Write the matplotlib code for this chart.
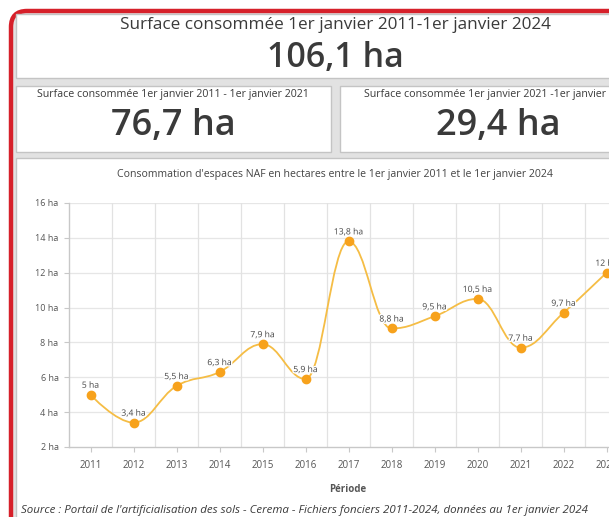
import numpy as np
import matplotlib
matplotlib.use("Agg")
import matplotlib.pyplot as plt
from matplotlib.patches import FancyBboxPatch, Rectangle, PathPatch
from matplotlib.path import Path
import matplotlib.patheffects as pe

# ---- data ----
years = [2011, 2012, 2013, 2014, 2015, 2016, 2017, 2018, 2019, 2020, 2021, 2022, 2023]
values = [5.0, 3.4, 5.5, 6.3, 7.9, 5.9, 13.8, 8.8, 9.5, 10.5, 7.7, 9.7, 12.0]
value_labels = ["5 ha", "3,4 ha", "5,5 ha", "6,3 ha", "7,9 ha", "5,9 ha", "13,8 ha",
                "8,8 ha", "9,5 ha", "10,5 ha", "7,7 ha", "9,7 ha", "12 ha"]
y_ticks = [2, 4, 6, 8, 10, 12, 14, 16]
y_tick_labels = ["2 ha", "4 ha", "6 ha", "8 ha", "10 ha", "12 ha", "14 ha", "16 ha"]

title_total = "Surface consommée 1er janvier 2011-1er janvier 2024"
value_total = "106,1 ha"
title_p1 = "Surface consommée 1er janvier 2011 - 1er janvier 2021"
value_p1 = "76,7 ha"
title_p2 = "Surface consommée 1er janvier 2021 -1er janvier 2024"
value_p2 = "29,4 ha"
chart_title = "Consommation d'espaces NAF en hectares entre le 1er janvier 2011 et le 1er janvier 2024"
x_title = "Période"
source = ("Source : Portail de l'artificialisation des sols - Cerema - Fichiers fonciers "
          "2011-2024, données au 1er janvier 2024")

W, H = 609, 517
DPI = 100
plt.rcParams['font.family'] = ['Open Sans', 'DejaVu Sans']

fig = plt.figure(figsize=(W / DPI, H / DPI), dpi=DPI)
fig.patch.set_facecolor("white")

# background axes in pixel coordinates (y from top)
bg = fig.add_axes([0, 0, 1, 1])
bg.set_xlim(0, W)
bg.set_ylim(H, 0)
bg.axis("off")

GRAY_BG = "#e2e2e2"
PANEL_EDGE = "#c4c4c4"
RED = "#d6202a"
TXT = "#3a3a3a"

# red rounded frame with gray interior
frame = FancyBboxPatch((11, 11), 700, 530, boxstyle="round,pad=0,rounding_size=16",
                       facecolor=GRAY_BG, edgecolor=RED, linewidth=3.2, zorder=1)
bg.add_patch(frame)

def panel(x0, y0, x1, y1):
    bg.add_patch(Rectangle((x0, y0), x1 - x0, y1 - y0, facecolor="white",
                           edgecolor=PANEL_EDGE, linewidth=1.0, zorder=2))

panel(15.5, 14, 660, 77.5)
panel(15.5, 86, 331, 152)
panel(340, 86, 660, 152)
panel(15.5, 158, 660, 560)

bg.text(335, 25, title_total, ha="center", va="center", fontsize=12.3, color=TXT, zorder=3)
bg.text(335, 58, value_total, ha="center", va="center", fontsize=24.5, color=TXT,
        fontweight="semibold", zorder=3)
bg.text(173, 94, title_p1, ha="center", va="center", fontsize=7.7, color=TXT, zorder=3)
bg.text(173, 126, value_p1, ha="center", va="center", fontsize=26, color=TXT,
        fontweight="semibold", zorder=3)
bg.text(498, 94, title_p2, ha="center", va="center", fontsize=7.7, color=TXT, zorder=3)
bg.text(498, 126, value_p2, ha="center", va="center", fontsize=26, color=TXT,
        fontweight="semibold", zorder=3)
bg.text(335, 175, chart_title, ha="center", va="center", fontsize=7.6, color="#444444", zorder=3)
bg.text(21, 510, source, ha="left", va="center", fontsize=8.25, style="italic",
        color="#3a3a3a", zorder=3)

# ---- chart axes ----
x_left_px, x_right_px = 69, 628
y_top_px, y_bot_px = 203, 447
ax = fig.add_axes([x_left_px / W, 1 - y_bot_px / H,
                   (x_right_px - x_left_px) / W, (y_bot_px - y_top_px) / H])
ax.set_facecolor("none")
ax.set_xlim(years[0] - 0.5, years[-1] + 0.5)
ax.set_ylim(2, 16)
ax.set_zorder(5)

for s in ["top", "right"]:
    ax.spines[s].set_visible(False)
for s in ["left", "bottom"]:
    ax.spines[s].set_color("#c8c8c8")
    ax.spines[s].set_linewidth(1.0)

ax.set_yticks(y_ticks)
ax.set_yticklabels(y_tick_labels)
ax.set_xticks(years)
ax.set_xticklabels([str(y) for y in years])
ax.tick_params(axis="both", colors="#c8c8c8", labelcolor="#555555", labelsize=6.5,
               length=3.5, width=0.8)
ax.tick_params(axis="x", pad=6)
ax.tick_params(axis="y", pad=4)
for lab in ax.get_xticklabels():
    lab.set_fontsize(7.0)

# gridlines
for yv in y_ticks[1:]:
    ax.axhline(yv, color="#e6e6e6", linewidth=0.9, zorder=0)
for xb in years[:-1]:
    ax.axvline(xb + 0.5, color="#e2e2e2", linewidth=0.9, zorder=0)

# Highcharts-like spline through the data points
def spline_path(xs, ys, smoothing=1.5):
    denom = smoothing + 1
    n = len(xs)
    lc = [None] * n
    rc = [None] * n
    for i in range(n):
        if 0 < i < n - 1:
            px, py = xs[i], ys[i]
            lx, ly = xs[i - 1], ys[i - 1]
            nx, ny = xs[i + 1], ys[i + 1]
            lcx = (smoothing * px + lx) / denom
            lcy = (smoothing * py + ly) / denom
            rcx = (smoothing * px + nx) / denom
            rcy = (smoothing * py + ny) / denom
            corr = 0
            if rcx != lcx:
                corr = (rcy - lcy) * (rcx - px) / (rcx - lcx) + py - rcy
            lcy += corr
            rcy += corr
            if lcy > ly and lcy > py:
                lcy = max(ly, py); rcy = 2 * py - lcy
            elif lcy < ly and lcy < py:
                lcy = min(ly, py); rcy = 2 * py - lcy
            if rcy > ny and rcy > py:
                rcy = max(ny, py); lcy = 2 * py - rcy
            elif rcy < ny and rcy < py:
                rcy = min(ny, py); lcy = 2 * py - rcy
            lc[i] = (lcx, lcy)
            rc[i] = (rcx, rcy)
    verts = [(xs[0], ys[0])]
    codes = [Path.MOVETO]
    for i in range(1, n):
        c1 = rc[i - 1] if rc[i - 1] is not None else (xs[i - 1], ys[i - 1])
        c2 = lc[i] if lc[i] is not None else (xs[i], ys[i])
        verts += [c1, c2, (xs[i], ys[i])]
        codes += [Path.CURVE4] * 3
    return Path(verts, codes)

ax.add_patch(PathPatch(spline_path(years, values), facecolor="none",
                       edgecolor="#f5bd45", linewidth=1.3, zorder=3, clip_on=False))
ax.plot(years, values, linestyle="none", marker="o", markersize=6,
        color="#f7a21c", zorder=4, clip_on=False)

for x, v, lab in zip(years, values, value_labels):
    ax.annotate(lab, (x, v), xytext=(0, 6.8), textcoords="offset points",
                ha="center", va="center", fontsize=6.2, color="#444444", zorder=6,
                annotation_clip=False,
                path_effects=[pe.withStroke(linewidth=2, foreground="white")])

ax.set_xlabel(x_title, fontsize=7.0, fontweight="bold", color="#555555")
ax.xaxis.set_label_coords((348 - x_left_px) / (x_right_px - x_left_px), -0.15)

fig.savefig("out.png", dpi=DPI)
